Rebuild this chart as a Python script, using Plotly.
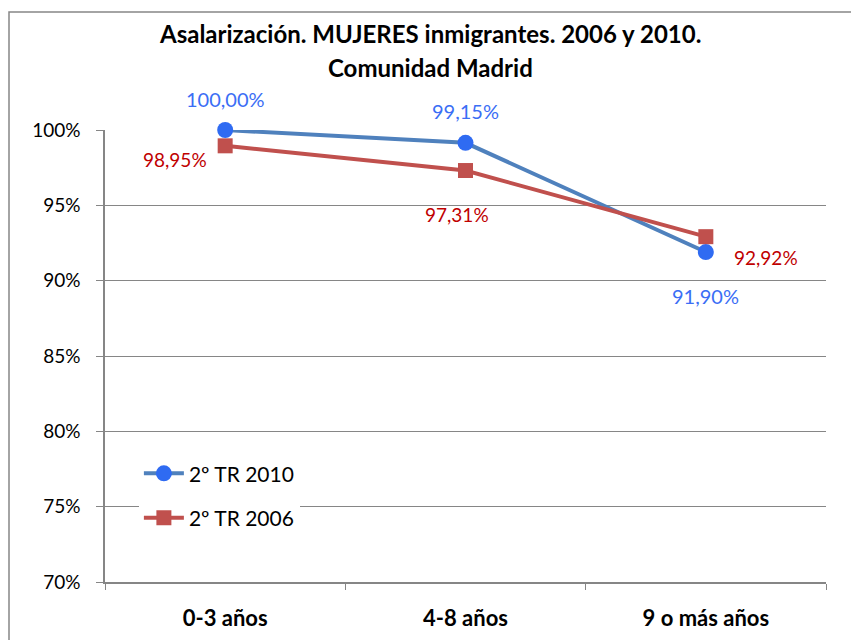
import plotly.graph_objects as go

categorias = ['0-3 años', '4-8 años', '9 o más años']
tr_2010 = [1.0, 0.9915, 0.919]
tr_2006 = [0.9895, 0.9731, 0.9292]
etiquetas_2010 = ['100,00%', '99,15%', '91,90%']
etiquetas_2006 = ['98,95%', '97,31%', '92,92%']
ticks_y = [0.70, 0.75, 0.80, 0.85, 0.90, 0.95, 1.00]
ticks_y_txt = ['70%', '75%', '80%', '85%', '90%', '95%', '100%']
titulo = ['Asalarización. MUJERES inmigrantes. 2006 y 2010.', 'Comunidad Madrid']

FONT = 'Lato, Open Sans, sans-serif'
AZUL_LINEA = '#4F81BD'
AZUL_MARCA = '#2F6BF2'
AZUL_TXT = '#3B6EF5'
ROJO = '#C0504D'
ROJO_TXT = '#C00000'

fig = go.Figure()
fig.add_trace(go.Scatter(
    x=categorias, y=tr_2010, name='2º TR 2010', legendgroup='a',
    mode='lines+markers',
    line=dict(color=AZUL_LINEA, width=4),
    marker=dict(symbol='circle', size=16, color=AZUL_MARCA),
    cliponaxis=False,
))
fig.add_trace(go.Scatter(
    x=categorias, y=tr_2006, name='2º TR 2006', legendgroup='b',
    mode='lines+markers',
    line=dict(color=ROJO, width=4),
    marker=dict(symbol='square', size=15, color=ROJO),
    cliponaxis=False,
))

# etiquetas de datos
desp_2010 = [(0, 31), (0, 32), (0, -44)]
desp_2006 = [(-50, -14), (-9, -44), (60, -21)]
for cat, val, txt, (dx, dy) in zip(categorias, tr_2010, etiquetas_2010, desp_2010):
    fig.add_annotation(x=cat, y=val, text=txt, showarrow=False, xshift=dx, yshift=dy,
                       font=dict(family=FONT, size=20, color=AZUL_TXT))
for cat, val, txt, (dx, dy) in zip(categorias, tr_2006, etiquetas_2006, desp_2006):
    fig.add_annotation(x=cat, y=val, text=txt, showarrow=False, xshift=dx, yshift=dy,
                       font=dict(family=FONT, size=19, color=ROJO_TXT))

# título (dos líneas)
for linea, ypix in zip(titulo, [33, 67]):
    fig.add_annotation(
        text='<b>' + linea + '</b>',
        xref='paper', yref='paper', x=(430 - 105) / 721, y=1 + (130 - ypix) / 452,
        xanchor='center', yanchor='middle', showarrow=False,
        font=dict(family=FONT, size=24, color='black'),
    )

# borde del gráfico
fig.add_shape(type='rect', xref='paper', yref='paper',
              x0=(9 - 105) / 721, x1=1.2, y0=-0.5, y1=1 + 118 / 452,
              line=dict(color='#868686', width=1.5), fillcolor='rgba(0,0,0,0)')

fig.update_layout(
    width=859, height=640,
    margin=dict(l=97, r=41, t=122, b=66, autoexpand=False),
    paper_bgcolor='white', plot_bgcolor='white',
    font=dict(family=FONT, color='black'),
    legend=dict(x=0.047, y=0.285, xanchor='left', yanchor='top',
                bgcolor='white', font=dict(family=FONT, size=21, color='black'),
                tracegroupgap=14, itemwidth=40),
    showlegend=True,
)
fig.update_xaxes(
    type='category', tickson='boundaries', ticks='outside', ticklen=6,
    tickcolor='#868686', showline=True, linecolor='#868686', linewidth=1.5,
    showgrid=False, tickfont=dict(family=FONT, size=22, color='black'),
    ticklabelstandoff=16, range=[-0.5, 2.5],
    tickvals=categorias, ticktext=['<b>' + c + '</b>' for c in categorias],
)
fig.update_yaxes(
    range=[0.70, 1.00], tickvals=ticks_y, ticktext=ticks_y_txt,
    ticks='outside', ticklen=7, tickcolor='#868686',
    showline=True, linecolor='#868686', linewidth=1.5,
    showgrid=True, gridcolor='#868686', gridwidth=1.2,
    tickfont=dict(family=FONT, size=19, color='black'), zeroline=False,
    ticklabelstandoff=12,
)

fig.write_html('out.html')
